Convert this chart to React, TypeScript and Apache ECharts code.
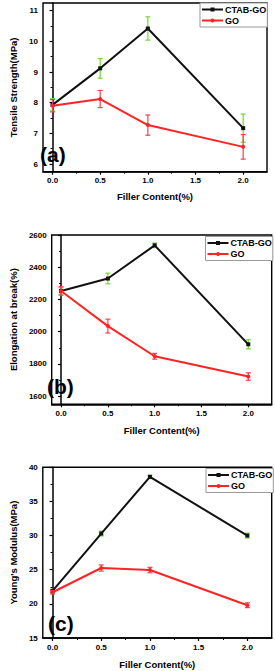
import React, { useEffect, useRef } from "react";
import * as echarts from "echarts";

// ---- data ----
const fillerContent = [0, 0.5, 1.0, 2.0];
const seriesNames = ["CTAB-GO", "GO"];

const tensileCtab = [7.93, 9.12, 10.42, 7.17];
const tensileCtabErr = [0.2, 0.32, 0.38, 0.46];
const tensileGo = [7.9, 8.12, 7.27, 6.56];
const tensileGoErr = [0.2, 0.28, 0.33, 0.4];

const elongCtab = [2253, 2330, 2536, 1922];
const elongCtabErr = [20, 33, 14, 28];
const elongGo = [2253, 2035, 1848, 1722];
const elongGoErr = [26, 43, 18, 23];

const youngCtab = [21.9, 30.3, 38.6, 30.0];
const youngCtabErr = [0.25, 0.35, 0.25, 0.35];
const youngGo = [21.7, 25.25, 24.95, 19.8];
const youngGoErr = [0.25, 0.45, 0.4, 0.35];

const xMajorTicks = [0, 0.5, 1.0, 1.5, 2.0];
const xMinorTicks = [0.25, 0.75, 1.25, 1.75];
const tensileTicks = [6, 7, 8, 9, 10, 11];
const tensileMinor = [6.5, 7.5, 8.5, 9.5, 10.5];
const elongTicks = [1600, 1800, 2000, 2200, 2400, 2600];
const elongMinor = [1700, 1900, 2100, 2300, 2500];
const youngTicks = [15, 20, 25, 30, 35, 40];
const youngMinor = [17.5, 22.5, 27.5, 32.5, 37.5];

const FONT = "Liberation Sans, Arial, sans-serif";
const BLACK = "#111111";
const RED = "#ff2424";
const GREEN = "#6fd83a";
const PINK = "#f2404e";

type Panel = {
  grid: any;
  yMin: number;
  yMax: number;
  yTicks: number[];
  yMinor: number[];
  yName: string;
  yNameGap: number;
  xNameGap: number;
  ctab: number[];
  ctabErr: number[];
  go: number[];
  goErr: number[];
  label: string;
  labelPos: [number, number];
  legendPos: [number, number];
  yFmt: (v: number) => string;
};

const panels: Panel[] = [
  {
    grid: { left: 38, top: 3, width: 229, height: 168.7 },
    yMin: 5.75,
    yMax: 11.25,
    yTicks: tensileTicks,
    yMinor: tensileMinor,
    yName: "Tensile Strength(MPa)",
    yNameGap: 25,
    xNameGap: 20,
    ctab: tensileCtab,
    ctabErr: tensileCtabErr,
    go: tensileGo,
    goErr: tensileGoErr,
    label: "(a)",
    labelPos: [40, 144],
    legendPos: [200, 3],
    yFmt: (v) => String(v),
  },
  {
    grid: { left: 42, top: 235, width: 229.7, height: 169.3 },
    yMin: 1550,
    yMax: 2600,
    yTicks: elongTicks,
    yMinor: elongMinor,
    yName: "Elongation at break(%)",
    yNameGap: 28,
    xNameGap: 21,
    ctab: elongCtab,
    ctabErr: elongCtabErr,
    go: elongGo,
    goErr: elongGoErr,
    label: "(b)",
    labelPos: [47, 376],
    legendPos: [205.5, 236.5],
    yFmt: (v) => String(v),
  },
  {
    grid: { left: 42, top: 467.3, width: 229.7, height: 170.7 },
    yMin: 15,
    yMax: 40,
    yTicks: youngTicks,
    yMinor: youngMinor,
    yName: "Young's Modulus(MPa)",
    yNameGap: 22,
    xNameGap: 21,
    ctab: youngCtab,
    ctabErr: youngCtabErr,
    go: youngGo,
    goErr: youngGoErr,
    label: "(c)",
    labelPos: [48, 613],
    legendPos: [206, 468.5],
    yFmt: (v) => String(v),
  },
];

function errorSeries(
  name: string,
  values: number[],
  errs: number[],
  color: string,
  axis: number,
  z: number
) {
  return {
    type: "custom",
    name: name + "-err",
    xAxisIndex: axis,
    yAxisIndex: axis,
    z,
    silent: true,
    data: fillerContent.map((x, i) => [x, values[i], errs[i]]),
    encode: { x: 0, y: 1 },
    renderItem: (params: any, api: any) => {
      const x = api.value(0);
      const y = api.value(1);
      const e = api.value(2);
      const top = api.coord([x, y + e]);
      const bot = api.coord([x, y - e]);
      const hw = 2.5;
      const style = { stroke: color, lineWidth: 1.2 };
      return {
        type: "group",
        children: [
          { type: "line", shape: { x1: top[0], y1: top[1], x2: bot[0], y2: bot[1] }, style },
          { type: "line", shape: { x1: top[0] - hw, y1: top[1], x2: top[0] + hw, y2: top[1] }, style },
          { type: "line", shape: { x1: bot[0] - hw, y1: bot[1], x2: bot[0] + hw, y2: bot[1] }, style },
        ],
      };
    },
  };
}

function buildOption() {
  const grid: any[] = [];
  const xAxis: any[] = [];
  const yAxis: any[] = [];
  const series: any[] = [];
  const legend: any[] = [];
  const graphic: any[] = [];

  panels.forEach((p, i) => {
    grid.push({ ...p.grid, show: true, borderColor: "#000", borderWidth: 1.4, backgroundColor: "#fff" });
    const main = 2 * i;
    const minor = 2 * i + 1;
    xAxis.push({
      type: "value",
      gridIndex: i,
      position: "bottom",
      min: -0.1,
      max: 2.25,
      name: "Filler Content(%)",
      nameLocation: "middle",
      nameGap: p.xNameGap,
      nameTextStyle: { fontFamily: FONT, fontWeight: "bold", fontSize: 9.5, color: "#000" },
      axisLine: { show: true, lineStyle: { color: "#000", width: 1.5 } },
      axisTick: { show: true, length: 3, lineStyle: { color: "#000", width: 1.2 }, customValues: xMajorTicks },
      axisLabel: {
        customValues: xMajorTicks,
        formatter: (v: number) => v.toFixed(1),
        fontFamily: FONT,
        fontWeight: "bold",
        fontSize: 8,
        color: "#000",
        margin: 5,
      },
      splitLine: { show: false },
    });
    xAxis.push({
      type: "value",
      gridIndex: i,
      position: "bottom",
      min: -0.1,
      max: 2.25,
      axisLine: { show: false },
      axisTick: { show: true, length: 2, lineStyle: { color: "#000", width: 1 }, customValues: xMinorTicks },
      axisLabel: { show: false },
      splitLine: { show: false },
    });
    yAxis.push({
      type: "value",
      gridIndex: i,
      position: "left",
      min: p.yMin,
      max: p.yMax,
      name: p.yName,
      nameLocation: "middle",
      nameGap: p.yNameGap,
      nameTextStyle: { fontFamily: FONT, fontWeight: "bold", fontSize: 9.5, color: "#000" },
      axisLine: { show: true, lineStyle: { color: "#000", width: 1.5 } },
      axisTick: { show: true, length: 3, lineStyle: { color: "#000", width: 1.2 }, customValues: p.yTicks },
      axisLabel: {
        customValues: p.yTicks,
        formatter: p.yFmt,
        fontFamily: FONT,
        fontWeight: "bold",
        fontSize: 8,
        color: "#000",
        margin: 5,
      },
      splitLine: { show: false },
    });
    yAxis.push({
      type: "value",
      gridIndex: i,
      position: "left",
      min: p.yMin,
      max: p.yMax,
      axisLine: { show: false },
      axisTick: { show: true, length: 2, lineStyle: { color: "#000", width: 1 }, customValues: p.yMinor },
      axisLabel: { show: false },
      splitLine: { show: false },
    });

    series.push(errorSeries("CTAB-GO", p.ctab, p.ctabErr, GREEN, main, 2));
    series.push({
      type: "line",
      name: "CTAB-GO",
      xAxisIndex: main,
      yAxisIndex: main,
      z: 3,
      data: fillerContent.map((x, k) => [x, p.ctab[k]]),
      symbol: "rect",
      symbolSize: 4,
      lineStyle: { color: BLACK, width: 2 },
      itemStyle: { color: BLACK },
    });
    series.push(errorSeries("GO", p.go, p.goErr, PINK, main, 4));
    series.push({
      type: "line",
      name: "GO",
      xAxisIndex: main,
      yAxisIndex: main,
      z: 5,
      data: fillerContent.map((x, k) => [x, p.go[k]]),
      symbol: "circle",
      symbolSize: 4,
      lineStyle: { color: RED, width: 2 },
      itemStyle: { color: RED },
    });

    legend.push({
      data: seriesNames,
      orient: "vertical",
      left: p.legendPos[0],
      top: p.legendPos[1],
      itemWidth: 21,
      itemHeight: 5,
      itemGap: 2,
      padding: [2, 1, 2, 1],
      selectedMode: false,
      borderColor: "#9a9a9a",
      borderWidth: 1,
      borderRadius: 0,
      backgroundColor: "#fff",
      z: 10,
      textStyle: { fontFamily: FONT, fontWeight: "bold", fontSize: 9, color: "#000", padding: [0, 0, 0, -3] },
    });

    graphic.push({
      type: "text",
      left: p.labelPos[0],
      top: p.labelPos[1],
      z: 20,
      style: { text: p.label, font: `bold 21px ${FONT}`, fill: "#000" },
    });
  });

  return {
    animation: false,
    backgroundColor: "#fff",
    grid,
    xAxis,
    yAxis,
    series,
    legend,
    graphic,
  };
}

export default function App() {
  const ref = useRef<HTMLDivElement>(null);
  useEffect(() => {
    if (!ref.current) return;
    const chart = echarts.init(ref.current, null, { renderer: "svg" });
    chart.setOption(buildOption() as any);
    return () => chart.dispose();
  }, []);
  return (
    <div
      ref={ref}
      style={{ position: "fixed", left: 0, top: 0, width: 275, height: 671, background: "#fff" }}
    />
  );
}
